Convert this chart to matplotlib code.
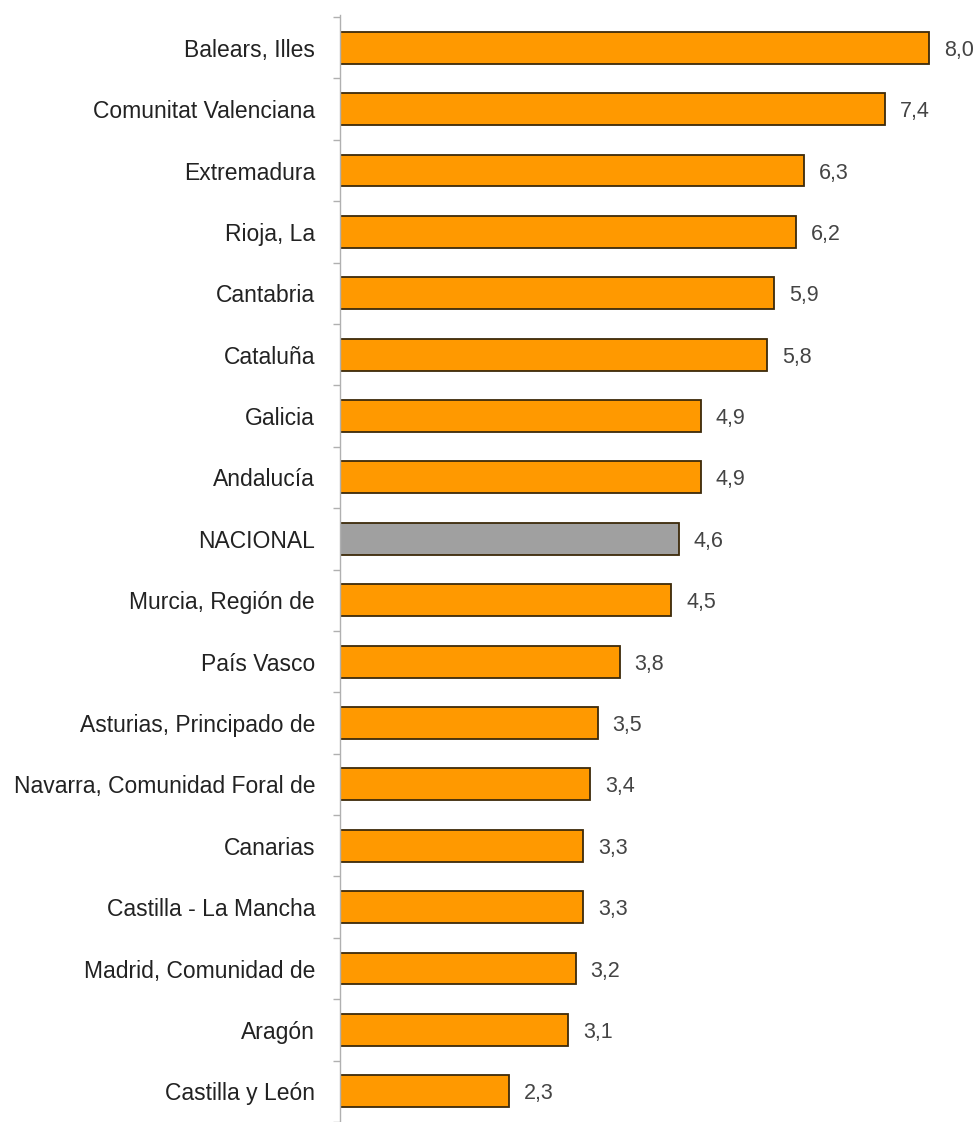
import matplotlib
matplotlib.use("Agg")
import matplotlib.pyplot as plt
import numpy as np

categories = ["Balears, Illes", "Comunitat Valenciana", "Extremadura", "Rioja, La",
              "Cantabria", "Cataluña", "Galicia", "Andalucía", "NACIONAL",
              "Murcia, Región de", "País Vasco", "Asturias, Principado de",
              "Navarra, Comunidad Foral de", "Canarias", "Castilla - La Mancha",
              "Madrid, Comunidad de", "Aragón", "Castilla y León"]
values = [8.0, 7.4, 6.3, 6.2, 5.9, 5.8, 4.9, 4.9, 4.6, 4.5, 3.8, 3.5, 3.4, 3.3, 3.3, 3.2, 3.1, 2.3]
value_labels = ["8,0", "7,4", "6,3", "6,2", "5,9", "5,8", "4,9", "4,9", "4,6", "4,5",
                "3,8", "3,5", "3,4", "3,3", "3,3", "3,2", "3,1", "2,3"]

plt.rcParams['font.family'] = ['Liberation Sans', 'DejaVu Sans']

W, H = 980, 1122
fig = plt.figure(figsize=(W / 100, H / 100), dpi=100)
ax_left = 340 / W
ax_right = 0.99
ax_top_px = 15
ax = fig.add_axes([ax_left, 0, ax_right - ax_left, 1 - ax_top_px / H])

px_per_unit = 73.6
axes_w_px = (ax_right - ax_left) * W
ax.set_xlim(0, axes_w_px / px_per_unit)

step = 61.9
center0 = 48
ax.set_ylim((H - center0) / step, (ax_top_px - center0) / step)

orange = "#FF9900"
gray = "#A0A0A0"
colors = [gray if c == "NACIONAL" else orange for c in categories]
y = np.arange(len(categories))
ax.barh(y, values, height=0.52, color=colors, edgecolor="#3d2a0a", linewidth=1.3, zorder=2)

for yi, v, lab in zip(y, values, value_labels):
    ax.annotate(lab, xy=(v, yi), xytext=(15, 0), textcoords="offset pixels",
                va="center_baseline", ha="left", fontsize=15.5, color="#444444")

ax.set_yticks(y)
ax.set_yticklabels(categories, fontsize=16.5, color="#222222")
ax.tick_params(axis="y", which="major", length=0, pad=18)
ax.set_yticks(np.arange(-0.5, len(categories), 1), minor=True)
ax.tick_params(axis="y", which="minor", length=5, width=1, color="#b0b0b0", direction="out")

ax.set_xticks([])
for s in ["top", "right", "bottom"]:
    ax.spines[s].set_visible(False)
ax.spines["left"].set_color("#b0b0b0")
ax.spines["left"].set_linewidth(1.0)

fig.savefig("out.png", dpi=100, facecolor="white")
